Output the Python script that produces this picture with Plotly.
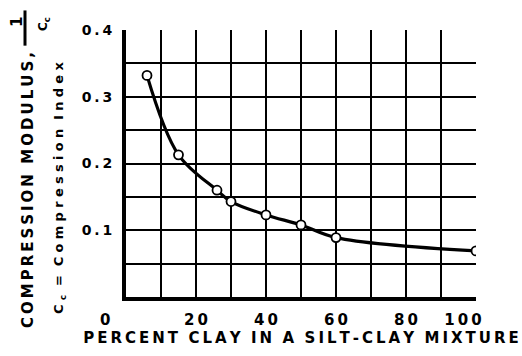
import plotly.graph_objects as go

# Data
percent_clay = [6, 15, 26, 30, 40, 50, 60, 100]
compression_modulus = [0.332, 0.213, 0.160, 0.143, 0.123, 0.108, 0.089, 0.069]

x_tick_vals = [0, 20, 40, 60, 80, 100]
x_tick_text = ["0" + "\u00a0" * 8, "2\u20090", "4\u20090", "6\u20090", "8\u20090", "1\u20090\u20090" + "\u00a0" * 5]
y_tick_vals = [0.1, 0.2, 0.3, 0.4]
y_tick_text = ["0\u2009.\u20091", "0\u2009.\u20092", "0\u2009.\u20093", "0\u2009.\u20094"]

FONT = "DejaVu Sans"
TS = "\u2009"   # thin space used as letter spacing


def spaced(s, sep=TS):
    return sep.join(list(s))


x_title = "  ".join(spaced(w) for w in "PERCENT CLAY IN A SILT-CLAY MIXTURE".split(" "))
y_title1 = "  ".join(spaced(w) for w in "COMPRESSION MODULUS,".split(" "))
sp2 = "\u2004"
y_title2 = ("C" + sp2 + "<sub>c</sub>" + sp2 + " = " + sp2 + spaced("Compression", sp2)
            + " " + sp2 + spaced("Index", sp2))

fig = go.Figure()
fig.add_trace(go.Scatter(
    x=percent_clay, y=compression_modulus,
    mode="lines+markers",
    line=dict(color="black", width=3.2, shape="spline", smoothing=1.0),
    marker=dict(size=9, color="white", line=dict(color="black", width=1.8)),
    showlegend=False, hoverinfo="skip",
))

PX_L, PX_B = 126, 303  # plot origin in pixels


def ann(text, px, py, size, angle=-90):
    fig.add_annotation(
        text=text, xref="paper", yref="paper", x=0, y=0,
        xshift=px - PX_L, yshift=PX_B - py,
        xanchor="center", yanchor="middle", showarrow=False,
        textangle=angle,
        font=dict(family=FONT, size=size, color="black", weight="bold"),
    )


ann(y_title1, 28, 196, 15)
ann(y_title2, 59, 194, 13)
ann("1", 17, 28, 15)
ann("C<sub>c</sub>", 44, 30, 12)
fig.add_shape(type="line", xref="paper", yref="paper",
              x0=(25 - PX_L) / 350, x1=(25 - PX_L) / 350,
              y0=(PX_B - 10) / 273, y1=(PX_B - 46) / 273,
              line=dict(color="black", width=3))

grid_color = "black"
fig.update_xaxes(
    range=[0, 100], tickvals=x_tick_vals, ticktext=x_tick_text,
    showgrid=True, gridcolor=grid_color, gridwidth=1.5,
    minor=dict(dtick=10, showgrid=True, gridcolor=grid_color, gridwidth=1.5),
    showline=True, linecolor="black", linewidth=4,
    zeroline=False, ticks="", ticklabelstandoff=6,
    tickfont=dict(family=FONT, size=15, color="black", weight="bold"),
    title=dict(text=x_title, standoff=4,
               font=dict(family=FONT, size=15, color="black", weight="bold")),
)
fig.update_yaxes(
    range=[0, 0.4], tickvals=y_tick_vals, ticktext=y_tick_text,
    showgrid=True, gridcolor=grid_color, gridwidth=1.5,
    minor=dict(dtick=0.05, showgrid=True, gridcolor=grid_color, gridwidth=1.5),
    showline=True, linecolor="black", linewidth=4,
    zeroline=False, ticks="", ticklabelstandoff=7,
    tickfont=dict(family=FONT, size=14, color="black", weight="bold"),
)
fig.update_layout(
    width=522, height=356,
    margin=dict(l=126, r=46, t=30, b=53),
    paper_bgcolor="white", plot_bgcolor="white",
)
fig.write_html("out.html")
